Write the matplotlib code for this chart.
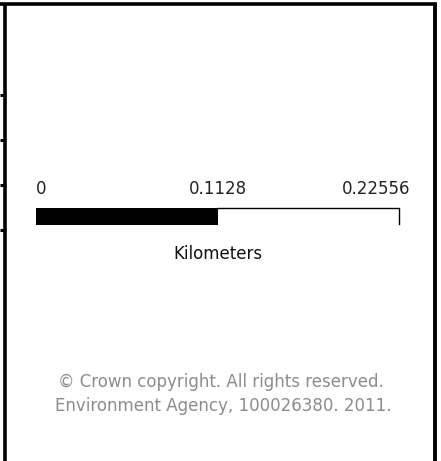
import matplotlib
matplotlib.use("Agg")
import matplotlib.pyplot as plt

# scale bar values (km)
tick_values = [0, 0.1128, 0.22556]
tick_labels = ["0", "0.1128", "0.22556"]
units = "Kilometers"
credit_lines = ["\u00a9 Crown copyright. All rights reserved.",
                "Environment Agency, 100026380. 2011."]

W, H = 441, 461
fig = plt.figure(figsize=(W / 100, H / 100), dpi=100)

# frame in pixel coords
ax = fig.add_axes([0, 0, 1, 1])
ax.set_xlim(0, W)
ax.set_ylim(H, 0)
ax.axis("off")
ax.plot([0, 437], [4.5, 4.5], color="black", lw=2.6, solid_capstyle="butt")
ax.plot([4.5, 4.5], [3, H], color="black", lw=2.6, solid_capstyle="butt")
ax.plot([435, 435], [3, H], color="black", lw=2.8, solid_capstyle="butt")
for y in [95, 140, 185, 230]:
    ax.plot([0, 5], [y, y], color="black", lw=2.2, solid_capstyle="butt")

# scale bar axes, in kilometers
x0, x1 = 36 / W, 399 / W
sb = fig.add_axes([x0, 1 - 225 / H, x1 - x0, 17 / H])
sb.set_xlim(tick_values[0], tick_values[-1])
sb.set_ylim(0, 1)
sb.axis("off")
sb.barh(0.5, tick_values[1] - tick_values[0], left=tick_values[0], height=1,
        color="black", linewidth=0)
sb.plot([tick_values[1], tick_values[2], tick_values[2]], [1, 1, 0.05],
        color="black", lw=1, clip_on=False)

# tick labels
fs = 12
sb.text(tick_values[0], 2.1, tick_labels[0], ha="left", va="center",
        fontsize=fs, color="#222222")
sb.text(tick_values[1], 2.1, tick_labels[1], ha="center", va="center",
        fontsize=fs, color="#222222")
sb.text(tick_values[2] + 0.007, 2.1, tick_labels[2], ha="right", va="center",
        fontsize=fs, color="#222222")

ax.text(218, 254, units, ha="center", va="center", fontsize=fs, color="#111111")
ax.text(221, 382, credit_lines[0], ha="center", va="center", fontsize=fs,
        color="#8c8c8c")
ax.text(223, 406, credit_lines[1], ha="center", va="center", fontsize=fs,
        color="#8c8c8c")

fig.savefig("out.png", dpi=100)
